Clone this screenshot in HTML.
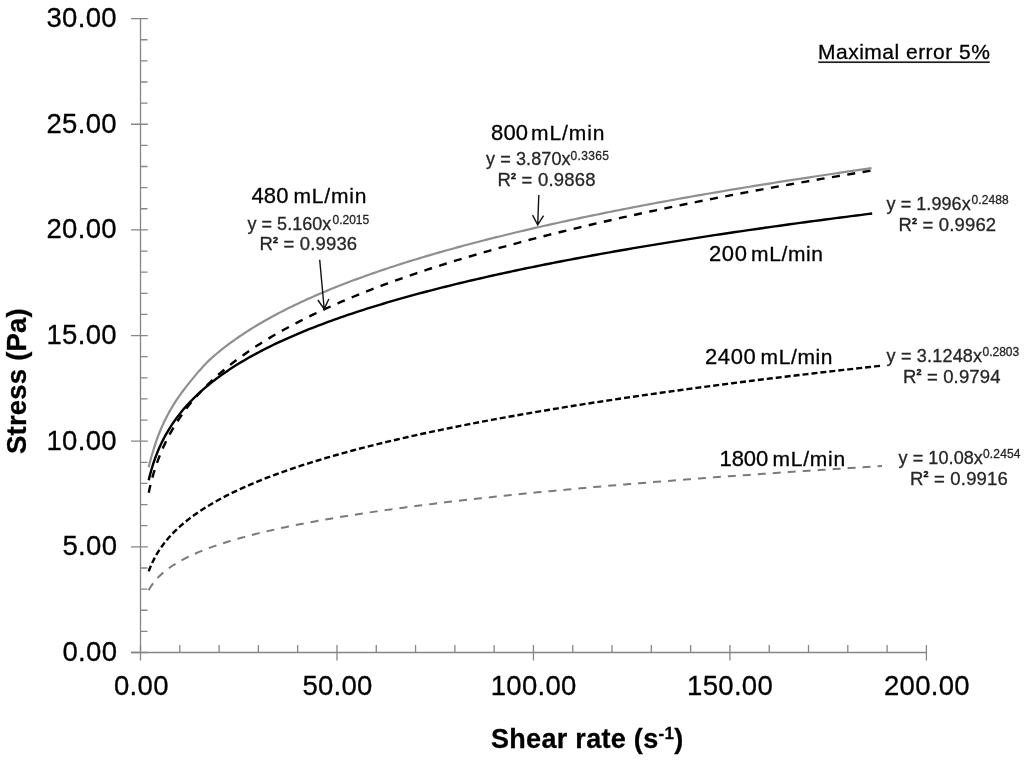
<!DOCTYPE html>
<html><head><meta charset="utf-8"><title>Stress vs shear rate</title><style>
html,body{margin:0;padding:0;background:#fff;width:1024px;height:761px;overflow:hidden;}
svg{display:block;font-family:"Liberation Sans",sans-serif;filter:grayscale(1);}
</style></head><body>
<svg width="1024" height="761" viewBox="0 0 1024 761" font-family="Liberation Sans, sans-serif" fill="#000" stroke="#000" stroke-width="0.3">
<path d="M140.5,18.60V652.5M131,652.5H926.40" stroke="#868686" stroke-width="1.3" fill="none"/>
<path d="M131,652.50H147.8M140.5,631.37H147.5M140.5,610.24H147.5M140.5,589.11H147.5M140.5,567.98H147.5M131,546.85H147.8M140.5,525.72H147.5M140.5,504.59H147.5M140.5,483.46H147.5M140.5,462.33H147.5M131,441.20H147.8M140.5,420.07H147.5M140.5,398.94H147.5M140.5,377.81H147.5M140.5,356.68H147.5M131,335.55H147.8M140.5,314.42H147.5M140.5,293.29H147.5M140.5,272.16H147.5M140.5,251.03H147.5M131,229.90H147.8M140.5,208.77H147.5M140.5,187.64H147.5M140.5,166.51H147.5M140.5,145.38H147.5M131,124.25H147.8M140.5,103.12H147.5M140.5,81.99H147.5M140.5,60.86H147.5M140.5,39.73H147.5M131,18.60H147.8M140.50,645V660.5M179.80,645V652.5M219.09,645V652.5M258.38,645V652.5M297.68,645V652.5M336.98,645V660.5M376.27,645V652.5M415.56,645V652.5M454.86,645V652.5M494.15,645V652.5M533.45,645V660.5M572.75,645V652.5M612.04,645V652.5M651.34,645V652.5M690.63,645V652.5M729.92,645V660.5M769.22,645V652.5M808.51,645V652.5M847.81,645V652.5M887.11,645V652.5M926.40,645V660.5" stroke="#868686" stroke-width="1.3" fill="none"/>
<path d="M148.71,590.17 L148.84,589.93 L149.11,589.45 L149.47,588.81 L149.92,588.06 L150.43,587.22 L151.02,586.31 L151.66,585.34 L152.36,584.34 L153.12,583.30 L153.93,582.25 L154.79,581.18 L155.70,580.10 L156.65,579.02 L157.65,577.94 L158.69,576.86 L159.78,575.79 L160.91,574.72 L162.07,573.66 L163.28,572.61 L164.53,571.57 L165.81,570.54 L167.13,569.51 L168.49,568.50 L169.88,567.51 L171.31,566.52 L172.78,565.54 L174.27,564.58 L175.81,563.62 L177.37,562.68 L178.97,561.75 L180.60,560.83 L182.26,559.92 L183.95,559.02 L185.68,558.13 L187.43,557.25 L189.21,556.38 L191.03,555.52 L192.87,554.67 L194.75,553.83 L196.65,553.00 L198.58,552.18 L200.54,551.36 L202.53,550.56 L204.55,549.76 L206.59,548.97 L208.67,548.19 L210.76,547.42 L212.89,546.66 L215.04,545.90 L217.22,545.15 L219.43,544.41 L221.66,543.67 L223.92,542.94 L226.20,542.22 L228.51,541.50 L230.84,540.80 L233.20,540.09 L235.58,539.40 L237.99,538.71 L240.43,538.02 L242.89,537.34 L245.37,536.67 L247.87,536.00 L250.40,535.34 L252.96,534.68 L255.54,534.03 L258.14,533.39 L260.76,532.74 L263.41,532.11 L266.08,531.48 L268.78,530.85 L271.49,530.23 L274.23,529.61 L276.99,529.00 L279.78,528.39 L282.59,527.78 L285.42,527.19 L288.27,526.59 L291.14,526.00 L294.04,525.41 L296.95,524.83 L299.89,524.25 L302.85,523.67 L305.84,523.10 L308.84,522.53 L311.87,521.97 L314.91,521.41 L317.98,520.85 L321.07,520.30 L324.18,519.75 L327.30,519.20 L330.46,518.66 L333.63,518.12 L336.82,517.58 L340.03,517.05 L343.26,516.51 L346.51,515.99 L349.79,515.46 L353.08,514.94 L356.39,514.42 L359.73,513.91 L363.08,513.39 L366.45,512.88 L369.84,512.38 L373.26,511.87 L376.69,511.37 L380.14,510.87 L383.61,510.38 L387.10,509.88 L390.61,509.39 L394.13,508.90 L397.68,508.42 L401.25,507.93 L404.83,507.45 L408.44,506.97 L412.06,506.50 L415.70,506.02 L419.36,505.55 L423.04,505.08 L426.74,504.61 L430.46,504.15 L434.19,503.69 L437.94,503.23 L441.71,502.77 L445.50,502.31 L449.31,501.86 L453.14,501.41 L456.98,500.96 L460.85,500.51 L464.73,500.06 L468.62,499.62 L472.54,499.18 L476.47,498.74 L480.43,498.30 L484.40,497.86 L488.38,497.43 L492.39,497.00 L496.41,496.57 L500.45,496.14 L504.51,495.71 L508.58,495.28 L512.68,494.86 L516.79,494.44 L520.91,494.02 L525.06,493.60 L529.22,493.18 L533.40,492.77 L537.59,492.36 L541.80,491.94 L546.03,491.53 L550.28,491.13 L554.54,490.72 L558.82,490.31 L563.12,489.91 L567.44,489.51 L571.77,489.11 L576.11,488.71 L580.48,488.31 L584.86,487.91 L589.26,487.52 L593.67,487.12 L598.10,486.73 L602.55,486.34 L607.01,485.95 L611.49,485.57 L615.98,485.18 L620.50,484.79 L625.02,484.41 L629.57,484.03 L634.13,483.65 L638.71,483.27 L643.30,482.89 L647.91,482.51 L652.53,482.14 L657.17,481.76 L661.83,481.39 L666.50,481.02 L671.19,480.65 L675.89,480.28 L680.62,479.91 L685.35,479.54 L690.10,479.18 L694.87,478.81 L699.65,478.45 L704.45,478.09 L709.27,477.73 L714.10,477.37 L718.94,477.01 L723.80,476.65 L728.68,476.29 L733.57,475.94 L738.48,475.58 L743.40,475.23 L748.34,474.88 L753.29,474.53 L758.26,474.18 L763.24,473.83 L768.24,473.48 L773.25,473.13 L778.28,472.79 L783.33,472.44 L788.39,472.10 L793.46,471.76 L798.55,471.41 L803.65,471.07 L808.77,470.73 L813.91,470.39 L819.06,470.06 L824.22,469.72 L829.40,469.38 L834.59,469.05 L839.80,468.72 L845.02,468.38 L850.26,468.05 L855.51,467.72 L860.78,467.39 L866.06,467.06 L871.36,466.73 L876.67,466.40 L882.00,466.08" fill="none" stroke="#7a7a7a" stroke-width="2" stroke-dasharray="8 7"/>
<path d="M148.71,571.32 L148.84,570.96 L149.11,570.24 L149.47,569.28 L149.91,568.15 L150.43,566.88 L151.01,565.50 L151.65,564.04 L152.36,562.52 L153.11,560.95 L153.92,559.34 L154.78,557.71 L155.68,556.06 L156.63,554.40 L157.63,552.74 L158.67,551.08 L159.75,549.42 L160.88,547.76 L162.04,546.12 L163.25,544.48 L164.49,542.86 L165.77,541.25 L167.09,539.65 L168.45,538.07 L169.84,536.50 L171.26,534.95 L172.72,533.41 L174.22,531.89 L175.75,530.38 L177.31,528.89 L178.90,527.41 L180.53,525.95 L182.19,524.50 L183.88,523.07 L185.60,521.65 L187.35,520.24 L189.13,518.85 L190.94,517.47 L192.78,516.11 L194.65,514.76 L196.55,513.42 L198.48,512.10 L200.43,510.79 L202.42,509.49 L204.43,508.20 L206.47,506.92 L208.54,505.66 L210.63,504.41 L212.75,503.16 L214.90,501.93 L217.07,500.71 L219.28,499.50 L221.50,498.30 L223.75,497.11 L226.03,495.93 L228.34,494.76 L230.67,493.60 L233.02,492.45 L235.40,491.30 L237.80,490.17 L240.23,489.04 L242.68,487.93 L245.16,486.82 L247.66,485.72 L250.19,484.63 L252.73,483.54 L255.31,482.47 L257.90,481.40 L260.52,480.33 L263.16,479.28 L265.83,478.23 L268.52,477.19 L271.23,476.16 L273.96,475.13 L276.72,474.12 L279.50,473.10 L282.30,472.10 L285.12,471.10 L287.97,470.10 L290.84,469.12 L293.73,468.14 L296.64,467.16 L299.57,466.19 L302.52,465.23 L305.50,464.27 L308.50,463.32 L311.52,462.37 L314.55,461.43 L317.62,460.49 L320.70,459.56 L323.80,458.64 L326.92,457.72 L330.07,456.80 L333.23,455.89 L336.41,454.99 L339.62,454.09 L342.85,453.19 L346.09,452.30 L349.36,451.41 L352.64,450.53 L355.95,449.65 L359.27,448.78 L362.62,447.91 L365.98,447.05 L369.37,446.19 L372.77,445.33 L376.20,444.48 L379.64,443.63 L383.10,442.79 L386.59,441.95 L390.09,441.12 L393.61,440.29 L397.15,439.46 L400.71,438.63 L404.28,437.81 L407.88,437.00 L411.50,436.18 L415.13,435.38 L418.78,434.57 L422.45,433.77 L426.14,432.97 L429.85,432.17 L433.58,431.38 L437.32,430.59 L441.09,429.81 L444.87,429.03 L448.67,428.25 L452.49,427.47 L456.32,426.70 L460.18,425.93 L464.05,425.17 L467.94,424.40 L471.85,423.64 L475.77,422.89 L479.72,422.13 L483.68,421.38 L487.66,420.63 L491.65,419.89 L495.67,419.15 L499.70,418.41 L503.75,417.67 L507.81,416.94 L511.90,416.21 L516.00,415.48 L520.11,414.75 L524.25,414.03 L528.40,413.31 L532.57,412.59 L536.76,411.87 L540.96,411.16 L545.18,410.45 L549.42,409.74 L553.67,409.04 L557.95,408.34 L562.23,407.63 L566.54,406.94 L570.86,406.24 L575.20,405.55 L579.55,404.86 L583.92,404.17 L588.31,403.48 L592.72,402.80 L597.14,402.12 L601.57,401.44 L606.03,400.76 L610.50,400.08 L614.98,399.41 L619.48,398.74 L624.00,398.07 L628.54,397.40 L633.09,396.74 L637.66,396.08 L642.24,395.42 L646.84,394.76 L651.45,394.10 L656.08,393.45 L660.73,392.80 L665.39,392.15 L670.07,391.50 L674.76,390.85 L679.47,390.21 L684.20,389.56 L688.94,388.92 L693.70,388.28 L698.47,387.65 L703.26,387.01 L708.06,386.38 L712.88,385.75 L717.72,385.12 L722.57,384.49 L727.43,383.86 L732.32,383.24 L737.21,382.62 L742.12,382.00 L747.05,381.38 L751.99,380.76 L756.95,380.14 L761.92,379.53 L766.91,378.92 L771.91,378.31 L776.93,377.70 L781.97,377.09 L787.01,376.48 L792.08,375.88 L797.16,375.28 L802.25,374.68 L807.36,374.08 L812.48,373.48 L817.62,372.88 L822.77,372.29 L827.94,371.69 L833.12,371.10 L838.32,370.51 L843.53,369.92 L848.76,369.34 L854.00,368.75 L859.26,368.17 L864.53,367.58 L869.81,367.00 L875.11,366.42 L880.42,365.84" fill="none" stroke="#000" stroke-width="2.4" stroke-dasharray="6 3"/>
<path d="M148.71,467.27 L148.84,466.70 L149.10,465.57 L149.46,464.07 L149.90,462.31 L150.41,460.34 L150.98,458.23 L151.62,456.01 L152.31,453.71 L153.06,451.34 L153.86,448.65 L154.70,445.93 L155.60,443.18 L156.54,440.44 L157.52,437.69 L158.55,434.96 L159.62,432.24 L160.73,429.54 L161.88,426.86 L163.07,424.21 L164.30,421.59 L165.57,419.00 L166.87,416.44 L168.21,413.91 L169.58,411.40 L170.99,408.94 L172.43,406.50 L173.91,404.09 L175.42,401.71 L176.96,399.37 L178.54,397.05 L180.14,394.77 L181.78,392.51 L183.45,390.28 L185.15,388.08 L186.88,385.89 L188.64,383.67 L190.43,381.43 L192.25,379.18 L194.10,376.92 L195.97,374.66 L197.88,372.40 L199.81,370.16 L201.77,367.94 L203.76,365.77 L205.77,363.65 L207.81,361.59 L209.88,359.61 L211.98,357.71 L214.10,355.86 L216.25,354.03 L218.42,352.23 L220.62,350.44 L222.85,348.66 L225.10,346.91 L227.37,345.17 L229.68,343.45 L232.00,341.75 L234.35,340.06 L236.73,338.39 L239.12,336.73 L241.55,335.09 L243.99,333.47 L246.47,331.86 L248.96,330.26 L251.48,328.68 L254.02,327.11 L256.58,325.55 L259.17,324.01 L261.78,322.48 L264.41,320.96 L267.07,319.46 L269.75,317.97 L272.45,316.49 L275.17,315.02 L277.92,313.56 L280.69,312.12 L283.48,310.68 L286.29,309.26 L289.12,307.84 L291.97,306.44 L294.85,305.05 L297.75,303.67 L300.67,302.29 L303.61,300.93 L306.57,299.58 L309.55,298.23 L312.55,296.90 L315.57,295.58 L318.62,294.26 L321.68,292.95 L324.77,291.65 L327.87,290.36 L331.00,289.08 L334.15,287.81 L337.31,286.54 L340.50,285.29 L343.71,284.04 L346.93,282.80 L350.18,281.56 L353.44,280.34 L356.73,279.12 L360.03,277.91 L363.36,276.70 L366.70,275.51 L370.07,274.32 L373.45,273.13 L376.85,271.96 L380.27,270.79 L383.71,269.63 L387.17,268.47 L390.65,267.32 L394.15,266.18 L397.66,265.04 L401.20,263.91 L404.75,262.78 L408.32,261.67 L411.91,260.55 L415.52,259.45 L419.15,258.34 L422.79,257.25 L426.45,256.16 L430.14,255.08 L433.84,254.00 L437.55,252.92 L441.29,251.86 L445.04,250.79 L448.82,249.74 L452.61,248.69 L456.41,247.64 L460.24,246.60 L464.08,245.56 L467.94,244.53 L471.82,243.50 L475.72,242.48 L479.63,241.46 L483.56,240.45 L487.51,239.44 L491.47,238.44 L495.46,237.44 L499.46,236.45 L503.47,235.46 L507.51,234.47 L511.56,233.49 L515.63,232.51 L519.71,231.54 L523.81,230.57 L527.93,229.61 L532.07,228.65 L536.22,227.69 L540.39,226.74 L544.58,225.79 L548.78,224.85 L553.00,223.91 L557.24,222.97 L561.49,222.04 L565.76,221.11 L570.04,220.19 L574.35,219.27 L578.66,218.35 L583.00,217.44 L587.35,216.53 L591.72,215.62 L596.10,214.72 L600.50,213.82 L604.92,212.92 L609.35,212.03 L613.80,211.14 L618.26,210.26 L622.74,209.38 L627.24,208.50 L631.75,207.62 L636.27,206.75 L640.82,205.88 L645.38,205.01 L649.95,204.15 L654.54,203.29 L659.15,202.44 L663.77,201.58 L668.41,200.73 L673.06,199.89 L677.73,199.04 L682.41,198.20 L687.11,197.36 L691.83,196.53 L696.56,195.69 L701.31,194.86 L706.07,194.04 L710.84,193.21 L715.63,192.39 L720.44,191.57 L725.26,190.76 L730.10,189.95 L734.95,189.14 L739.82,188.33 L744.70,187.52 L749.60,186.72 L754.51,185.92 L759.44,185.12 L764.38,184.33 L769.34,183.54 L774.31,182.75 L779.30,181.96 L784.30,181.18 L789.32,180.40 L794.35,179.62 L799.40,178.84 L804.46,178.07 L809.54,177.29 L814.63,176.52 L819.73,175.76 L824.85,174.99 L829.99,174.23 L835.14,173.47 L840.30,172.71 L845.48,171.96 L850.67,171.20 L855.88,170.45 L861.10,169.70 L866.33,168.95 L871.58,168.21" fill="none" stroke="#8f8f8f" stroke-width="2.2"/>
<path d="M148.71,480.28 L148.84,479.71 L149.10,478.59 L149.46,477.11 L149.90,475.36 L150.41,473.40 L150.99,471.28 L151.62,469.04 L152.31,466.72 L153.06,464.33 L153.86,461.90 L154.71,459.44 L155.60,456.96 L156.54,454.48 L157.53,452.01 L158.56,449.54 L159.63,447.09 L160.74,444.65 L161.89,442.24 L163.09,439.86 L164.31,437.49 L165.58,435.16 L166.89,432.85 L168.22,430.57 L169.60,428.32 L171.01,426.10 L172.45,423.91 L173.93,421.75 L175.44,419.61 L176.99,417.50 L178.56,415.42 L180.17,413.37 L181.81,411.34 L183.48,409.34 L185.18,407.37 L186.91,405.42 L188.67,403.49 L190.46,401.59 L192.28,399.71 L194.13,397.86 L196.01,396.03 L197.92,394.22 L199.85,392.43 L201.81,390.66 L203.80,388.91 L205.82,387.18 L207.86,385.47 L209.93,383.78 L212.03,382.11 L214.15,380.46 L216.30,378.82 L218.48,377.20 L220.68,375.60 L222.91,374.01 L225.16,372.44 L227.44,370.89 L229.74,369.35 L232.07,367.83 L234.42,366.32 L236.80,364.82 L239.20,363.34 L241.62,361.88 L244.07,360.43 L246.55,358.99 L249.04,357.56 L251.56,356.14 L254.10,354.74 L256.67,353.35 L259.26,351.98 L261.87,350.61 L264.51,349.26 L267.17,347.91 L269.85,346.58 L272.55,345.26 L275.28,343.95 L278.02,342.65 L280.79,341.36 L283.59,340.08 L286.40,338.81 L289.23,337.55 L292.09,336.29 L294.97,335.05 L297.87,333.82 L300.79,332.60 L303.73,331.38 L306.70,330.18 L309.68,328.98 L312.68,327.79 L315.71,326.61 L318.76,325.43 L321.82,324.27 L324.91,323.11 L328.02,321.96 L331.15,320.82 L334.30,319.69 L337.47,318.56 L340.66,317.44 L343.86,316.33 L347.09,315.22 L350.34,314.12 L353.61,313.03 L356.90,311.95 L360.21,310.87 L363.53,309.80 L366.88,308.73 L370.25,307.67 L373.63,306.62 L377.04,305.57 L380.46,304.53 L383.90,303.50 L387.37,302.47 L390.85,301.45 L394.35,300.43 L397.86,299.42 L401.40,298.41 L404.96,297.41 L408.53,296.42 L412.12,295.43 L415.74,294.44 L419.37,293.46 L423.01,292.49 L426.68,291.52 L430.37,290.56 L434.07,289.60 L437.79,288.65 L441.53,287.70 L445.29,286.75 L449.06,285.81 L452.85,284.88 L456.66,283.95 L460.49,283.02 L464.34,282.10 L468.20,281.18 L472.08,280.27 L475.98,279.36 L479.90,278.46 L483.83,277.56 L487.78,276.67 L491.75,275.78 L495.74,274.89 L499.74,274.01 L503.76,273.13 L507.80,272.25 L511.85,271.38 L515.93,270.51 L520.01,269.65 L524.12,268.79 L528.24,267.94 L532.38,267.08 L536.54,266.24 L540.71,265.39 L544.90,264.55 L549.11,263.71 L553.33,262.88 L557.57,262.05 L561.83,261.22 L566.10,260.40 L570.39,259.58 L574.69,258.76 L579.02,257.95 L583.35,257.14 L587.71,256.33 L592.08,255.52 L596.47,254.72 L600.87,253.93 L605.29,253.13 L609.72,252.34 L614.18,251.55 L618.64,250.77 L623.13,249.99 L627.63,249.21 L632.14,248.43 L636.67,247.66 L641.22,246.89 L645.78,246.12 L650.36,245.35 L654.96,244.59 L659.57,243.83 L664.19,243.08 L668.83,242.32 L673.49,241.57 L678.16,240.82 L682.85,240.08 L687.55,239.34 L692.27,238.60 L697.01,237.86 L701.76,237.12 L706.52,236.39 L711.30,235.66 L716.10,234.93 L720.91,234.21 L725.73,233.49 L730.58,232.77 L735.43,232.05 L740.30,231.33 L745.19,230.62 L750.09,229.91 L755.01,229.20 L759.94,228.50 L764.89,227.79 L769.85,227.09 L774.82,226.39 L779.82,225.70 L784.82,225.00 L789.84,224.31 L794.88,223.62 L799.93,222.93 L805.00,222.25 L810.08,221.56 L815.17,220.88 L820.28,220.20 L825.40,219.53 L830.54,218.85 L835.70,218.18 L840.86,217.51 L846.05,216.84 L851.24,216.17 L856.45,215.51 L861.68,214.84 L866.92,214.18 L872.17,213.52" fill="none" stroke="#000" stroke-width="2.4"/>
<path d="M148.71,492.76 L148.84,492.15 L149.11,490.92 L149.46,489.29 L149.90,487.35 L150.41,485.19 L150.99,482.85 L151.63,480.37 L152.32,477.79 L153.07,475.14 L153.87,472.42 L154.72,469.67 L155.61,466.90 L156.56,464.12 L157.54,461.33 L158.58,458.55 L159.65,455.78 L160.76,453.02 L161.92,450.29 L163.11,447.57 L164.34,444.88 L165.61,442.22 L166.91,439.58 L168.26,436.97 L169.63,434.38 L171.05,431.83 L172.49,429.30 L173.97,426.81 L175.49,424.34 L177.03,421.90 L178.61,419.49 L180.22,417.10 L181.86,414.74 L183.54,412.41 L185.24,410.11 L186.97,407.83 L188.74,405.58 L190.53,403.35 L192.35,401.15 L194.21,398.97 L196.09,396.81 L198.00,394.68 L199.93,392.57 L201.90,390.48 L203.89,388.41 L205.91,386.37 L207.96,384.34 L210.03,382.34 L212.13,380.35 L214.26,378.39 L216.41,376.44 L218.59,374.51 L220.80,372.60 L223.03,370.71 L225.29,368.83 L227.57,366.97 L229.87,365.13 L232.20,363.30 L234.56,361.49 L236.94,359.70 L239.35,357.92 L241.77,356.15 L244.23,354.40 L246.70,352.67 L249.21,350.95 L251.73,349.24 L254.28,347.55 L256.85,345.86 L259.44,344.20 L262.06,342.54 L264.70,340.90 L267.36,339.27 L270.05,337.65 L272.75,336.04 L275.48,334.45 L278.23,332.87 L281.01,331.30 L283.80,329.73 L286.62,328.18 L289.46,326.65 L292.32,325.12 L295.21,323.60 L298.11,322.09 L301.04,320.59 L303.98,319.10 L306.95,317.62 L309.94,316.15 L312.95,314.69 L315.98,313.24 L319.03,311.80 L322.11,310.37 L325.20,308.94 L328.31,307.53 L331.45,306.12 L334.60,304.72 L337.77,303.33 L340.97,301.95 L344.18,300.58 L347.42,299.21 L350.67,297.85 L353.94,296.50 L357.24,295.16 L360.55,293.82 L363.88,292.49 L367.24,291.17 L370.61,289.85 L374.00,288.55 L377.41,287.25 L380.84,285.95 L384.29,284.67 L387.75,283.39 L391.24,282.11 L394.75,280.85 L398.27,279.59 L401.81,278.33 L405.37,277.08 L408.96,275.84 L412.55,274.60 L416.17,273.37 L419.81,272.15 L423.46,270.93 L427.13,269.72 L430.82,268.51 L434.53,267.31 L438.26,266.12 L442.01,264.93 L445.77,263.74 L449.55,262.56 L453.35,261.39 L457.17,260.22 L461.00,259.06 L464.85,257.90 L468.72,256.75 L472.61,255.60 L476.52,254.46 L480.44,253.32 L484.38,252.18 L488.34,251.06 L492.31,249.93 L496.30,248.81 L500.31,247.70 L504.34,246.59 L508.38,245.48 L512.45,244.38 L516.52,243.29 L520.62,242.19 L524.73,241.11 L528.86,240.02 L533.01,238.95 L537.17,237.87 L541.35,236.80 L545.55,235.73 L549.76,234.67 L553.99,233.61 L558.24,232.56 L562.50,231.51 L566.78,230.46 L571.07,229.42 L575.39,228.38 L579.72,227.35 L584.06,226.32 L588.42,225.29 L592.80,224.27 L597.20,223.25 L601.61,222.23 L606.03,221.22 L610.47,220.21 L614.93,219.20 L619.41,218.20 L623.90,217.20 L628.41,216.21 L632.93,215.22 L637.47,214.23 L642.02,213.24 L646.59,212.26 L651.18,211.28 L655.78,210.31 L660.40,209.34 L665.03,208.37 L669.68,207.40 L674.34,206.44 L679.02,205.48 L683.72,204.53 L688.43,203.58 L693.16,202.63 L697.90,201.68 L702.66,200.74 L707.43,199.80 L712.22,198.86 L717.02,197.92 L721.84,196.99 L726.67,196.06 L731.52,195.14 L736.39,194.21 L741.27,193.29 L746.16,192.38 L751.07,191.46 L756.00,190.55 L760.94,189.64 L765.89,188.73 L770.86,187.83 L775.84,186.93 L780.84,186.03 L785.86,185.13 L790.89,184.24 L795.93,183.35 L800.99,182.46 L806.06,181.58 L811.15,180.69 L816.26,179.81 L821.37,178.93 L826.51,178.06 L831.65,177.18 L836.81,176.31 L841.99,175.45 L847.18,174.58 L852.39,173.72 L857.61,172.85 L862.84,172.00 L868.09,171.14 L873.35,170.29" fill="none" stroke="#000" stroke-width="2.4" stroke-dasharray="8 7.5"/>
<path d="M538.8,195L537.7,224.9M543.55,215.58L537.7,224.9L532.55,215.18" stroke="#111" stroke-width="1.4" fill="none"/>
<path d="M319.7,259.7L324.2,309M328.81,299.01L324.2,309L317.86,300.01" stroke="#111" stroke-width="1.4" fill="none"/>
<text x="491.0" y="140" font-size="22" letter-spacing="0.2">800</text>
<text x="531.0" y="140" font-size="21" letter-spacing="0.92">mL/min</text>
<text x="251.5" y="203.2" font-size="22" letter-spacing="0.1">480</text>
<text x="293.5" y="203.2" font-size="21" letter-spacing="0.8">mL/min</text>
<text x="709.0" y="260.6" font-size="22" letter-spacing="0.6">200</text>
<text x="751.0" y="260.6" font-size="21" letter-spacing="0.64">mL/min</text>
<text x="705.0" y="364" font-size="22" letter-spacing="0.6">2400</text>
<text x="760.5" y="364" font-size="21" letter-spacing="0.64">mL/min</text>
<text x="719.5" y="465.7" font-size="22" letter-spacing="-0.067">1800</text>
<text x="772.5" y="465.7" font-size="21" letter-spacing="0.76">mL/min</text>
<text x="486.0" y="165.2" font-size="18" letter-spacing="0.111" fill="#262626" stroke="#262626">y = 3.870x</text>
<text x="570.5" y="159.7" font-size="12" letter-spacing="0.36" fill="#262626" stroke="#262626">0.3365</text>
<text x="247.5" y="229.9" font-size="18" letter-spacing="0.022" fill="#262626" stroke="#262626">y = 5.160x</text>
<text x="332.5" y="223.7" font-size="12" fill="#262626" stroke="#262626">0.2015</text>
<text x="886.5" y="210.2" font-size="18" letter-spacing="0.067" fill="#262626" stroke="#262626">y = 1.996x</text>
<text x="971.5" y="204.2" font-size="12" letter-spacing="0.08" fill="#262626" stroke="#262626">0.2488</text>
<text x="886.5" y="361.8" font-size="18" letter-spacing="0.2" fill="#262626" stroke="#262626">y = 3.1248x</text>
<text x="982.5" y="355.8" font-size="12" fill="#262626" stroke="#262626">0.2803</text>
<text x="898.5" y="464.2" font-size="18" letter-spacing="0.089" fill="#262626" stroke="#262626">y = 10.08x</text>
<text x="983.0" y="458.2" font-size="12" letter-spacing="0.16" fill="#262626" stroke="#262626">0.2454</text>
<text x="497.5" y="185.7" font-size="18.5" letter-spacing="0.2" fill="#262626" stroke="#262626">R<tspan font-size="9" font-weight="bold" stroke="#000" stroke-width="0.4" dy="-7.2">2</tspan><tspan dy="7.2"> = 0.9868</tspan></text>
<text x="259.5" y="250.4" font-size="18.5" letter-spacing="0.16" fill="#262626" stroke="#262626">R<tspan font-size="9" font-weight="bold" stroke="#000" stroke-width="0.4" dy="-7.2">2</tspan><tspan dy="7.2"> = 0.9936</tspan></text>
<text x="898.5" y="230.9" font-size="18.5" letter-spacing="0.16" fill="#262626" stroke="#262626">R<tspan font-size="9" font-weight="bold" stroke="#000" stroke-width="0.4" dy="-7.2">2</tspan><tspan dy="7.2"> = 0.9962</tspan></text>
<text x="903.0" y="382.5" font-size="18.5" letter-spacing="0.14" fill="#262626" stroke="#262626">R<tspan font-size="9" font-weight="bold" stroke="#000" stroke-width="0.4" dy="-7.2">2</tspan><tspan dy="7.2"> = 0.9794</tspan></text>
<text x="910.0" y="484.5" font-size="18.5" letter-spacing="0.18" fill="#262626" stroke="#262626">R<tspan font-size="9" font-weight="bold" stroke="#000" stroke-width="0.4" dy="-7.2">2</tspan><tspan dy="7.2"> = 0.9916</tspan></text>
<text x="818.0" y="59.4" font-size="21" letter-spacing="0.493">Maximal error 5%</text>
<text x="62.5" y="661.0" font-size="27.5" letter-spacing="0.3">0.00</text>
<text x="62.5" y="555.35" font-size="27.5" letter-spacing="0.3">5.00</text>
<text x="46.5" y="449.7" font-size="27.5" letter-spacing="0.3">10.00</text>
<text x="46.5" y="344.05" font-size="27.5" letter-spacing="0.3">15.00</text>
<text x="46.5" y="238.4" font-size="27.5" letter-spacing="0.3">20.00</text>
<text x="46.5" y="132.75" font-size="27.5" letter-spacing="0.3">25.00</text>
<text x="46.5" y="27.1" font-size="27.5" letter-spacing="0.3">30.00</text>
<text x="114.0" y="695.3" font-size="27.5" letter-spacing="0.3">0.00</text>
<text x="302.4" y="695.3" font-size="27.5" letter-spacing="0.3">50.00</text>
<text x="490.75" y="695.3" font-size="27.5" letter-spacing="0.3">100.00</text>
<text x="687.1" y="695.3" font-size="27.5" letter-spacing="0.3">150.00</text>
<text x="884.0" y="695.3" font-size="27.5" letter-spacing="0.3">200.00</text>
<rect x="818.8" y="61.6" width="170.8" height="1.3" fill="#111"/>
<text transform="translate(26.3,381) rotate(-90)" font-size="27.5" font-weight="bold" text-anchor="middle" letter-spacing="0.2">Stress (Pa)</text>
<text x="491" y="748.3" font-size="27" font-weight="bold" letter-spacing="0.3">Shear rate (s<tspan font-size="17" dy="-9.5">-1</tspan><tspan dy="9.5">)</tspan></text>
</svg>
</body></html>
